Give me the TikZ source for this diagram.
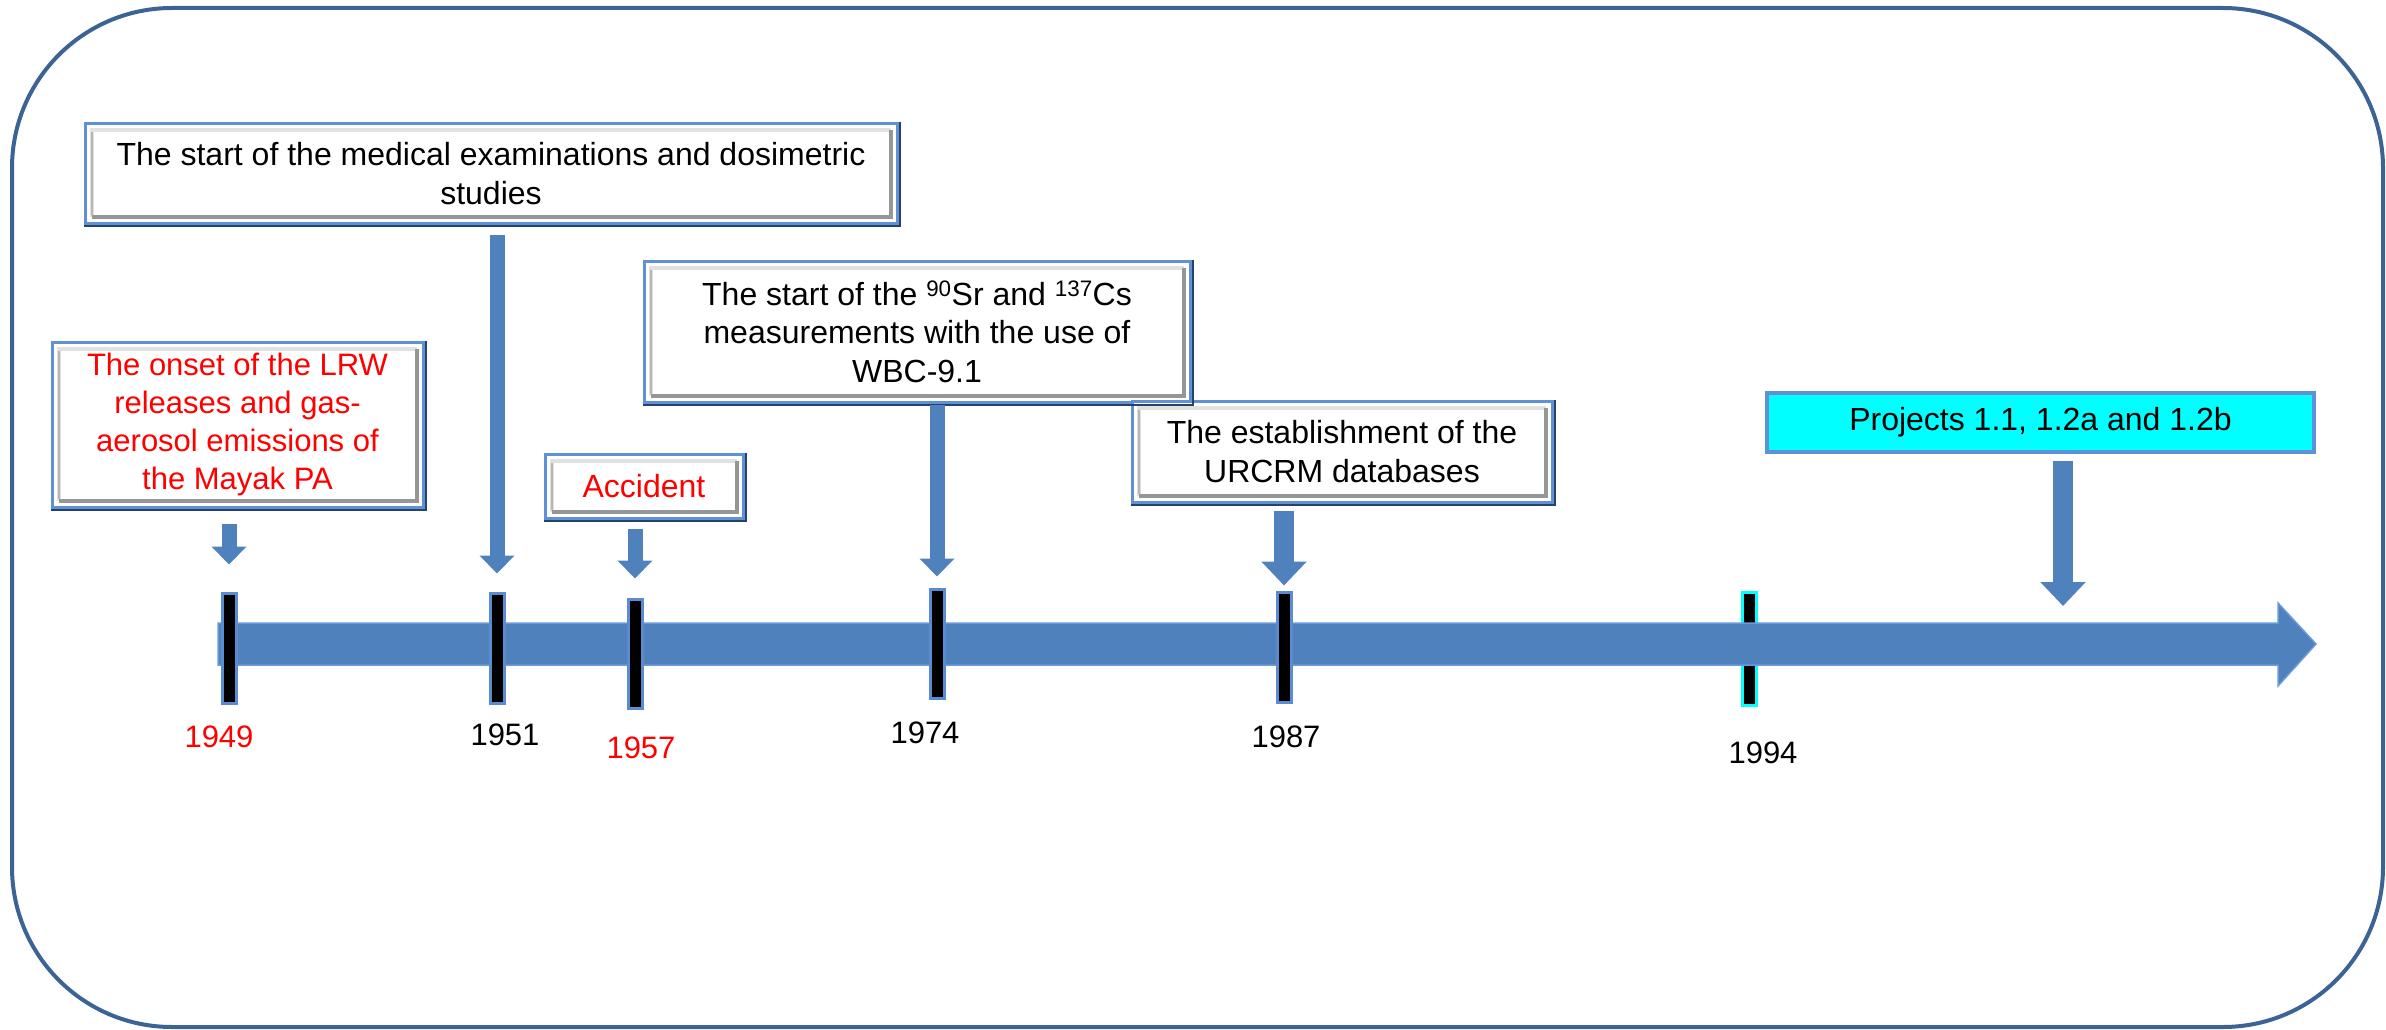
\documentclass[tikz,border=0pt]{standalone}
\usepackage{fontspec}
\setmainfont{Liberation Sans}
\usetikzlibrary{arrows.meta}
\definecolor{frameblue}{RGB}{59,99,149}
\definecolor{barblue}{RGB}{79,129,189}
\definecolor{baredge}{RGB}{105,155,220}
\definecolor{boxblue}{RGB}{95,145,215}
\definecolor{shadowblue}{RGB}{40,65,105}
\definecolor{tickblue}{RGB}{90,140,210}
\definecolor{cyanfill}{RGB}{0,255,255}
\definecolor{txtred}{RGB}{255,0,0}
\definecolor{bevlight}{RGB}{225,225,225}
\definecolor{bevdark}{RGB}{150,150,150}
\newcommand\bevel[1]{%
  \draw[bevlight, line width=4pt] ([shift={(8,-8)}]#1.south west) -- ([shift={(8,8)}]#1.north west) -- ([shift={(-8,8)}]#1.north east);
  \draw[bevdark, line width=4pt] ([shift={(-8,8)}]#1.north east) -- ([shift={(-8,-8)}]#1.south east) -- ([shift={(8,-8)}]#1.south west);
  \draw[bevdark!70, line width=2pt] ([shift={(8,10)}]#1.north west) -- ([shift={(8,-10)}]#1.south west);
  \draw[shadowblue, line width=2pt] ([shift={(1.5,0)}]#1.north east) -- ([shift={(1.5,1.5)}]#1.south east) -- ([shift={(0,1.5)}]#1.south west);
}
\begin{document}
\begin{tikzpicture}[x=1pt,y=-1pt,
  every node/.style={font=\fontsize{32}{38.5}\selectfont},
  bevbox/.style={draw=boxblue, line width=3pt, fill=white, inner sep=0pt, align=center},
  projbox/.style={draw=boxblue, line width=4pt, fill=cyanfill, inner sep=0pt, align=center},
  tick/.style={draw=tickblue, fill=black, line width=3pt, minimum width=14pt, inner sep=0pt},
  year/.style={inner sep=0pt, font=\fontsize{31}{36}\selectfont},
  arr/.style={draw=barblue, line width=15pt, -{Triangle[width=34pt,length=18pt]}},
  bigarr/.style={draw=barblue, line width=20pt, -{Triangle[width=44pt,length=24pt]}}
]
\useasboundingbox (0,0) rectangle (2386,1030);
\draw[frameblue, line width=4pt, rounded corners=160pt] (12,8) rectangle (2383,1027);

% tick behind the bar
\node[tick, draw=cyanfill, minimum height=113pt] (t1994) at (1749,648.5) {};

% timeline bar
\coordinate (tlS) at (218,644);
\coordinate (tlE) at (2316,644);
\fill[barblue, draw=baredge, line width=1.5pt] (218,623) -- (2278,623) -- (2278,603) -- (tlE) -- (2278,686) -- (2278,665) -- (218,665) -- cycle;

% ticks
\node[tick, minimum height=110pt] (t1949) at (229,648) {};
\node[tick, minimum height=110pt] (t1951) at (497,648) {};
\node[tick, minimum height=109pt] (t1957) at (635,653.5) {};
\node[tick, minimum height=109pt] (t1974) at (937,643.5) {};
\node[tick, minimum height=110pt] (t1987) at (1284,647) {};

% years
\node[year, text=txtred] (y1949) at (219,737) {1949};
\node[year] (y1951) at (505,735) {1951};
\node[year, text=txtred] (y1957) at (641,748) {1957};
\node[year] (y1974) at (925,733) {1974};
\node[year] (y1987) at (1286,737) {1987};
\node[year] (y1994) at (1763,753) {1994};

% boxes
\node[bevbox, minimum width=812pt, minimum height=99pt] (b1951) at (491,173.5)
  {The start of the medical examinations and dosimetric\\studies};
\node[bevbox, text=txtred, minimum width=371pt, minimum height=165pt,
      font=\fontsize{31}{38}\selectfont] (b1949) at (237.5,424.5)
  {The onset of the LRW\\releases and gas-\\aerosol emissions of\\the Mayak PA};
\node[bevbox, text=txtred, minimum width=198pt, minimum height=64pt] (b1957) at (644,486) {Accident};
\node[bevbox, minimum width=546pt, minimum height=141pt] (b1974) at (917,331.5)
  {The start of the \textsuperscript{90}Sr and \textsuperscript{137}Cs\\measurements with the use of\\WBC-9.1};
\node[bevbox, minimum width=420pt, minimum height=101pt] (b1987) at (1342,451.5)
  {The establishment of the\\URCRM databases};
\node[projbox, minimum width=547pt, minimum height=59pt] (bproj) at (2040.5,422.5)
  {Projects 1.1, 1.2a and 1.2b};

\bevel{b1951}
\bevel{b1949}
\bevel{b1957}
\bevel{b1974}
\bevel{b1987}

% arrows
\coordinate (ptgt) at (2063,623);
\draw[arr, shorten <=15pt, shorten >=27pt] (b1949.south -| t1949) -- (t1949.north);
\draw[arr, shorten <=10pt, shorten >=18pt] (b1951.south -| t1951) -- (t1951.north);
\draw[arr, shorten <=9pt, shorten >=19pt] (b1957.south -| t1957) -- (t1957.north);
\draw[arr, shorten <=1pt, shorten >=11pt] (b1974.south -| t1974) -- (t1974.north);
\draw[bigarr, shorten <=7pt, shorten >=5pt] (b1987.south -| t1987) -- (t1987.north);
\draw[bigarr, shorten <=7pt, shorten >=17pt] (bproj.south -| ptgt) -- (ptgt);
\end{tikzpicture}
\end{document}
